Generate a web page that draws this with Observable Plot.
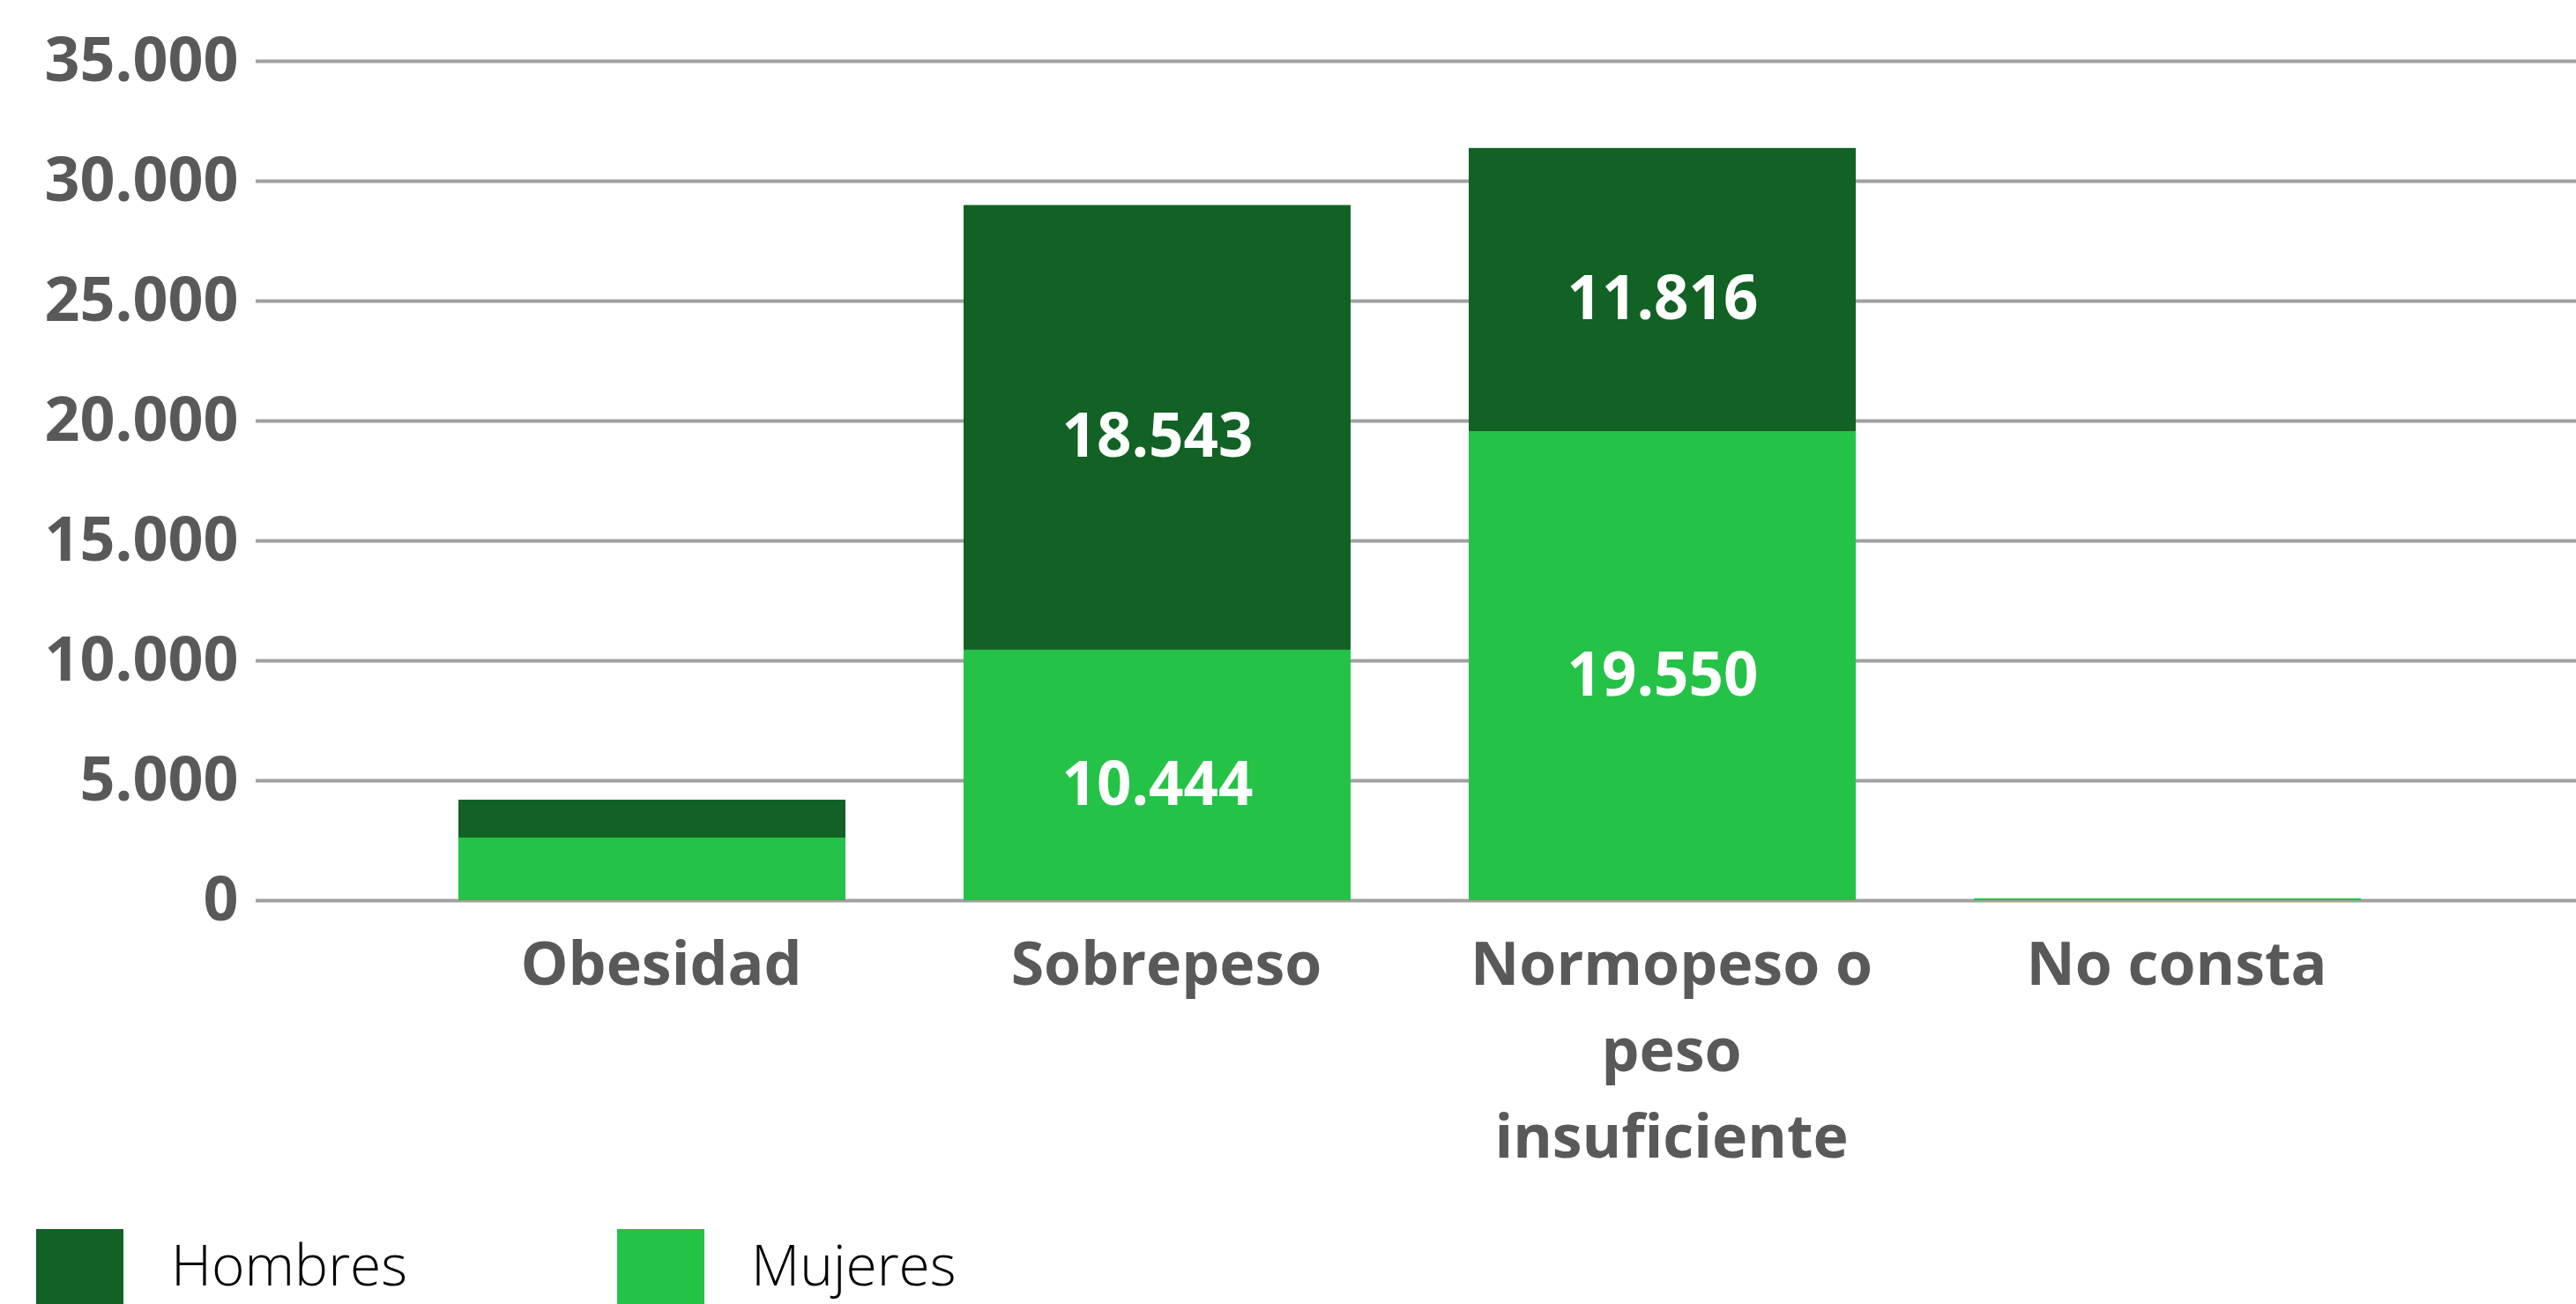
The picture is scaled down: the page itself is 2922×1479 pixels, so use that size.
<!DOCTYPE html>
<html>
<head>
<meta charset="utf-8">
<script src="https://cdn.jsdelivr.net/npm/d3@7"></script>
<script src="https://cdn.jsdelivr.net/npm/@observablehq/plot@0.6"></script>
<style>
  html, body { margin: 0; padding: 0; background: #fff; overflow: hidden; }
  #chart svg { display: block; overflow: visible; }
  #legend { position: relative; height: 85px; font-family: "Open Sans", Lato, sans-serif; font-weight: 300; }
  .sw { position: absolute; top: 0; width: 99px; height: 85px; }
  .lt { position: absolute; top: 8px; font-size: 64px; color: #000; line-height: 1; }
</style>
</head>
<body>
<div id="chart"></div>
<div id="legend"></div>
<script>
const categories = ["Obesidad", "Sobrepeso", "Normopeso o peso insuficiente", "No consta"];
const categoryLabels = ["Obesidad", "Sobrepeso", "Normopeso o\npeso\ninsuficiente", "No consta"];
const mujeres = [2610, 10444, 19550, 80];
const hombres = [1580, 18543, 11816, 0];
const series = ["Mujeres", "Hombres"];
const seriesColors = ["#24C247", "#126125"];
const legendOrder = ["Hombres", "Mujeres"];
const yTicks = [0, 5000, 10000, 15000, 20000, 25000, 30000, 35000];

const locale = d3.formatLocale({decimal: ",", thousands: ".", grouping: [3], currency: ["", "€"]});
const fmt = locale.format(",d");

const rows = [];
categories.forEach((c, i) => rows.push({cat: c, sexo: "Mujeres", value: mujeres[i]}));
categories.forEach((c, i) => rows.push({cat: c, sexo: "Hombres", value: hombres[i]}));

const labelOf = new Map(categories.map((c, i) => [c, categoryLabels[i]]));
const font = "'Open Sans', Lato, sans-serif";

const chart = Plot.plot({
  width: 2922,
  height: 1394,
  marginTop: 69,
  marginBottom: 373,
  marginLeft: 290,
  marginRight: 0,
  style: {fontFamily: font, background: "#fff", overflow: "visible"},
  x: {domain: categories, range: [384, 2814], paddingInner: 0.234, paddingOuter: 0.234, label: null},
  y: {domain: [0, 35000], label: null},
  color: {domain: series, range: seriesColors},
  marks: [
    Plot.ruleY(yTicks, {stroke: "#a0a0a0", strokeWidth: 4}),
    Plot.barY(rows, Plot.stackY({x: "cat", y: "value", z: "sexo", fill: "sexo", order: series})),
    Plot.text(rows, Plot.stackY({
      x: "cat", y: "value", z: "sexo", order: series,
      text: d => d.value > 5000 ? fmt(d.value) : null,
      fill: "#ffffff", fontSize: 69, fontWeight: 700, dy: 11
    })),
    Plot.axisY({
      ticks: yTicks, tickSize: 0, tickPadding: 20, tickFormat: fmt,
      fontSize: 70, fontWeight: 700, fill: "#595959", label: null
    }),
    Plot.axisX({
      tickSize: 0, tickPadding: 26, tickFormat: d => labelOf.get(d),
      fontSize: 68, fontWeight: 700, fill: "#595959", lineHeight: 1.44, dx: 10, label: null
    })
  ]
});
document.getElementById("chart").appendChild(chart);

const legend = document.getElementById("legend");
const pos = {Hombres: [41, 194], Mujeres: [700, 852]};
legendOrder.forEach(name => {
  const sw = document.createElement("div");
  sw.className = "sw";
  sw.style.left = pos[name][0] + "px";
  sw.style.background = seriesColors[series.indexOf(name)];
  legend.appendChild(sw);
  const t = document.createElement("div");
  t.className = "lt";
  t.style.left = pos[name][1] + "px";
  t.textContent = name;
  legend.appendChild(t);
});
</script>
</body>
</html>
